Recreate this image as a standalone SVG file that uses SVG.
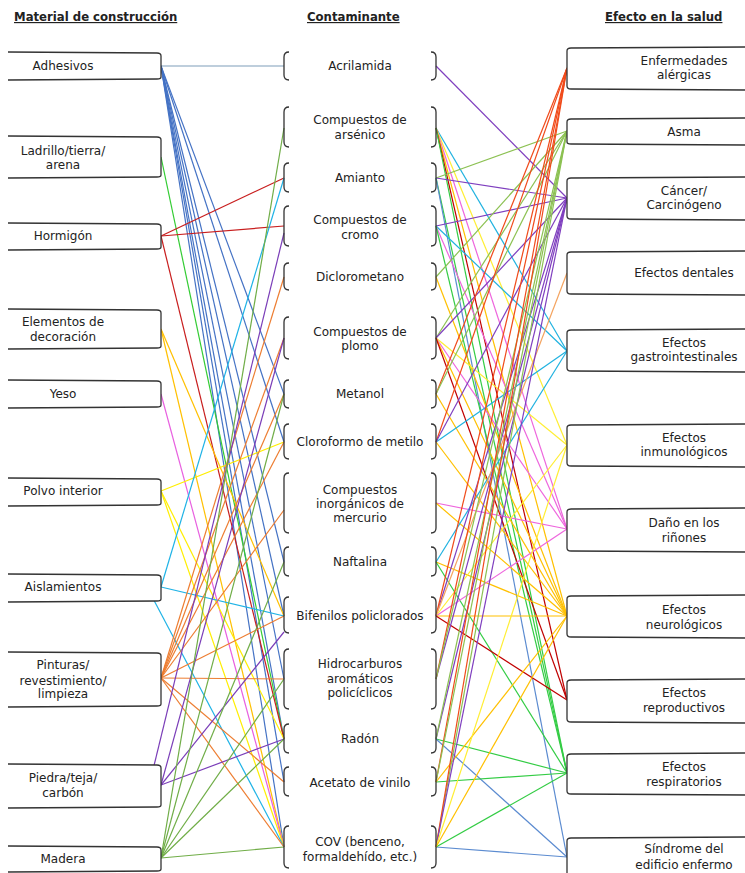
<svg xmlns="http://www.w3.org/2000/svg" width="745" height="873" viewBox="0 0 745 873">
<style>
text{font-family:"DejaVu Sans",Verdana,sans-serif;font-size:12px;fill:#222;text-anchor:middle}
.h{font-weight:bold;font-size:11.7px;text-decoration:underline;text-anchor:start}
.box{fill:#fff;stroke:#333;stroke-width:1.3}
.br{fill:none;stroke:#333;stroke-width:1.3}
#connectors line{stroke-width:1.2;fill:none}
.adh{stroke:#4472c4}.lad{stroke:#33cc33}.hor{stroke:#c81e1e}.ele{stroke:#ffc000}.yes{stroke:#e860e0}.pol{stroke:#ffee00}.ais{stroke:#1fb3e6}.pin{stroke:#ed7d31}.pie{stroke:#7a3db8}.mad{stroke:#70ad47}
.ale{stroke:#f04a1a}.asm{stroke:#8cc152}.can{stroke:#7f3fbf}.den{stroke:#f4a460}.gas{stroke:#20b2e0}.inm{stroke:#ffee33}.dan{stroke:#ee66dd}.neu{stroke:#ffc000}.rep{stroke:#c00000}.res{stroke:#33cc44}.sin{stroke:#5b8bd0}
</style>
<rect width="745" height="873" fill="#fff"/>
<text class="h" x="14" y="21">Material de construcción</text>
<text class="h" x="307" y="21">Contaminante</text>
<text class="h" x="605" y="21">Efecto en la salud</text>

<g id="connectors">
<line x1="161" y1="66" x2="284" y2="66" style="stroke:#7f9db9"/>
<line class="adh" x1="161" y1="66" x2="284" y2="394"/>
<line class="adh" x1="161" y1="66" x2="284" y2="442"/>
<line class="adh" x1="161" y1="66" x2="284" y2="562"/>
<line class="adh" x1="161" y1="66" x2="284" y2="616"/>
<line class="adh" x1="161" y1="66" x2="284" y2="679"/>
<line class="adh" x1="161" y1="66" x2="284" y2="739"/>
<line class="adh" x1="161" y1="66" x2="284" y2="782"/>
<line class="adh" x1="161" y1="66" x2="284" y2="847"/>
<line class="lad" x1="161" y1="157" x2="284" y2="739"/>
<line class="hor" x1="161" y1="236" x2="284" y2="178"/>
<line class="hor" x1="161" y1="236" x2="284" y2="226"/>
<line class="hor" x1="161" y1="236" x2="284" y2="739"/>
<line class="ele" x1="161" y1="329" x2="284" y2="616"/>
<line class="ele" x1="161" y1="329" x2="284" y2="847"/>
<line class="yes" x1="161" y1="394" x2="284" y2="847"/>
<line class="pol" x1="161" y1="491" x2="284" y2="442"/>
<line class="pol" x1="161" y1="491" x2="284" y2="739"/>
<line class="pol" x1="161" y1="491" x2="284" y2="847"/>
<line class="ais" x1="161" y1="587" x2="284" y2="178"/>
<line class="ais" x1="161" y1="587" x2="284" y2="616"/>
<line class="ais" x1="148" y1="589" x2="284" y2="847"/>
<line class="pin" x1="161" y1="678" x2="284" y2="277"/>
<line class="pin" x1="161" y1="678" x2="284" y2="338"/>
<line class="pin" x1="161" y1="678" x2="284" y2="394"/>
<line class="pin" x1="161" y1="678" x2="284" y2="442"/>
<line class="pin" x1="161" y1="678" x2="284" y2="510"/>
<line class="pin" x1="161" y1="678" x2="284" y2="616"/>
<line class="pin" x1="161" y1="678" x2="284" y2="679"/>
<line class="pin" x1="161" y1="678" x2="284" y2="782"/>
<line class="pin" x1="161" y1="678" x2="284" y2="847"/>
<line class="pie" x1="150" y1="782" x2="284" y2="233"/>
<line class="pie" x1="161" y1="785" x2="284" y2="338"/>
<line class="pie" x1="161" y1="785" x2="284" y2="632"/>
<line class="pie" x1="161" y1="785" x2="284" y2="739"/>
<line class="mad" x1="161" y1="858" x2="284" y2="128"/>
<line class="mad" x1="161" y1="858" x2="284" y2="394"/>
<line class="mad" x1="161" y1="858" x2="284" y2="562"/>
<line class="mad" x1="161" y1="858" x2="284" y2="679"/>
<line class="mad" x1="161" y1="858" x2="284" y2="739"/>
<line class="mad" x1="161" y1="858" x2="284" y2="847"/>

<line class="can" x1="436" y1="66" x2="567" y2="198"/>
<line class="gas" x1="436" y1="128" x2="567" y2="351"/>
<line class="inm" x1="436" y1="128" x2="567" y2="445"/>
<line class="dan" x1="436" y1="128" x2="567" y2="529"/>
<line class="neu" x1="436" y1="128" x2="567" y2="616"/>
<line class="rep" x1="436" y1="128" x2="567" y2="700"/>
<line class="res" x1="436" y1="128" x2="567" y2="773"/>
<line class="asm" x1="436" y1="178" x2="567" y2="131"/>
<line class="can" x1="436" y1="178" x2="567" y2="198"/>
<line class="res" x1="436" y1="178" x2="567" y2="773"/>
<line class="sin" x1="436" y1="178" x2="567" y2="857"/>
<line class="can" x1="436" y1="226" x2="567" y2="198"/>
<line class="gas" x1="436" y1="226" x2="567" y2="351"/>
<line class="dan" x1="436" y1="226" x2="567" y2="529"/>
<line class="res" x1="436" y1="226" x2="567" y2="773"/>
<line class="asm" x1="436" y1="277" x2="567" y2="131"/>
<line class="neu" x1="436" y1="277" x2="567" y2="616"/>
<line class="asm" x1="436" y1="338" x2="567" y2="131"/>
<line class="can" x1="436" y1="338" x2="567" y2="198"/>
<line class="inm" x1="436" y1="338" x2="567" y2="445"/>
<line class="dan" x1="436" y1="338" x2="567" y2="529"/>
<line class="neu" x1="436" y1="338" x2="567" y2="616"/>
<line class="rep" x1="436" y1="338" x2="567" y2="700"/>
<line class="ale" x1="436" y1="394" x2="567" y2="68"/>
<line class="asm" x1="436" y1="394" x2="567" y2="131"/>
<line class="neu" x1="436" y1="394" x2="567" y2="616"/>
<line class="gas" x1="436" y1="442" x2="567" y2="351"/>
<line class="ale" x1="436" y1="442" x2="567" y2="68"/>
<line class="can" x1="436" y1="442" x2="567" y2="198"/>
<line class="neu" x1="436" y1="442" x2="567" y2="616"/>
<line class="dan" x1="436" y1="503" x2="567" y2="529"/>
<line class="neu" x1="436" y1="503" x2="567" y2="616"/>
<line class="gas" x1="436" y1="562" x2="567" y2="351"/>
<line class="neu" x1="436" y1="562" x2="567" y2="616"/>
<line class="res" x1="436" y1="562" x2="567" y2="773"/>
<line class="can" x1="436" y1="616" x2="567" y2="198"/>
<line class="ale" x1="436" y1="616" x2="567" y2="68"/>
<line class="den" x1="436" y1="616" x2="567" y2="273"/>
<line class="inm" x1="436" y1="616" x2="567" y2="445"/>
<line class="dan" x1="436" y1="616" x2="567" y2="529"/>
<line class="neu" x1="436" y1="616" x2="567" y2="616"/>
<line class="rep" x1="436" y1="616" x2="567" y2="700"/>
<line class="can" x1="436" y1="679" x2="567" y2="198"/>
<line class="ale" x1="436" y1="679" x2="567" y2="68"/>
<line class="asm" x1="436" y1="679" x2="567" y2="131"/>
<line class="can" x1="436" y1="739" x2="567" y2="198"/>
<line class="asm" x1="436" y1="739" x2="567" y2="131"/>
<line class="res" x1="436" y1="739" x2="567" y2="773"/>
<line class="sin" x1="436" y1="739" x2="567" y2="857"/>
<line class="ale" x1="436" y1="782" x2="567" y2="68"/>
<line class="asm" x1="436" y1="782" x2="567" y2="131"/>
<line class="res" x1="436" y1="782" x2="567" y2="773"/>
<line class="neu" x1="436" y1="782" x2="567" y2="616"/>
<line class="sin" x1="436" y1="847" x2="567" y2="857"/>
<line class="res" x1="436" y1="847" x2="567" y2="773"/>
<line class="asm" x1="436" y1="847" x2="567" y2="131"/>
<line class="ale" x1="436" y1="847" x2="567" y2="68"/>
<line class="can" x1="436" y1="847" x2="567" y2="198"/>
<line class="inm" x1="436" y1="847" x2="567" y2="445"/>
<line class="neu" x1="436" y1="847" x2="567" y2="616"/>
</g>

<g id="adhesivos"><path class="box" d="M8,52 L157,53 Q161,53 161,56 L161,77 Q161,79 157,79 L8,80"/><text x="63" y="70">Adhesivos</text></g>
<g id="ladrillo"><path class="box" d="M8,136 L157,137 Q161,137 161,140 L161,175 Q161,177 157,177 L8,178"/><text x="63" y="155">Ladrillo/tierra/</text><text x="63" y="169">arena</text></g>
<g id="hormigon"><path class="box" d="M8,223 L157,224 Q161,224 161,227 L161,247 Q161,249 157,249 L8,250"/><text x="63" y="240">Hormigón</text></g>
<g id="elementos"><path class="box" d="M8,309 L157,310 Q161,310 161,313 L161,346 Q161,348 157,348 L8,349"/><text x="63" y="326">Elementos de</text><text x="63" y="341">decoración</text></g>
<g id="yeso"><path class="box" d="M8,380 L157,381 Q161,381 161,384 L161,405 Q161,407 157,407 L8,408"/><text x="63" y="398">Yeso</text></g>
<g id="polvo"><path class="box" d="M8,478 L157,479 Q161,479 161,482 L161,503 Q161,505 157,505 L8,506"/><text x="63" y="495">Polvo interior</text></g>
<g id="aislamientos"><path class="box" d="M8,574 L157,575 Q161,575 161,578 L161,599 Q161,601 157,601 L8,602"/><text x="63" y="591">Aislamientos</text></g>
<g id="pinturas"><path class="box" d="M8,652 L157,653 Q161,653 161,656 L161,704 Q161,706 157,706 L8,707"/><text x="63" y="669">Pinturas/</text><text x="63" y="685">revestimiento/</text><text x="63" y="698">limpieza</text></g>
<g id="piedra"><path class="box" d="M8,764 L157,765 Q161,765 161,768 L161,805 Q161,807 157,807 L8,808"/><text x="63" y="782">Piedra/teja/</text><text x="63" y="797">carbón</text></g>
<g id="madera"><path class="box" d="M8,846 L157,847 Q161,847 161,850 L161,869 Q161,871 157,871 L8,872"/><text x="63" y="863">Madera</text></g>

<g id="acrilamida"><path class="br" d="M289,52 Q284,52 284,57 L284,75 Q284,80 289,80 M431,52 Q436,52 436,57 L436,75 Q436,80 431,80"/><text x="360" y="70">Acrilamida</text></g>
<g id="arsenico"><path class="br" d="M289,107 Q284,107 284,112 L284,142 Q284,147 289,147 M431,107 Q436,107 436,112 L436,142 Q436,147 431,147"/><text x="360" y="124">Compuestos de</text><text x="360" y="139">arsénico</text></g>
<g id="amianto"><path class="br" d="M289,163 Q284,163 284,168 L284,187 Q284,192 289,192 M431,163 Q436,163 436,168 L436,187 Q436,192 431,192"/><text x="360" y="182">Amianto</text></g>
<g id="cromo"><path class="br" d="M289,206 Q284,206 284,211 L284,241 Q284,246 289,246 M431,206 Q436,206 436,211 L436,241 Q436,246 431,246"/><text x="360" y="224">Compuestos de</text><text x="360" y="239">cromo</text></g>
<g id="diclorometano"><path class="br" d="M289,263 Q284,263 284,268 L284,285 Q284,290 289,290 M431,263 Q436,263 436,268 L436,285 Q436,290 431,290"/><text x="360" y="281">Diclorometano</text></g>
<g id="plomo"><path class="br" d="M289,317 Q284,317 284,322 L284,354 Q284,359 289,359 M431,317 Q436,317 436,322 L436,354 Q436,359 431,359"/><text x="360" y="336">Compuestos de</text><text x="360" y="350">plomo</text></g>
<g id="metanol"><path class="br" d="M289,380 Q284,380 284,385 L284,403 Q284,408 289,408 M431,380 Q436,380 436,385 L436,403 Q436,408 431,408"/><text x="360" y="398">Metanol</text></g>
<g id="cloroformo"><path class="br" d="M289,424 Q284,424 284,429 L284,454 Q284,459 289,459 M431,424 Q436,424 436,429 L436,454 Q436,459 431,459"/><text x="360" y="446">Cloroformo de metilo</text></g>
<g id="mercurio"><path class="br" d="M289,473 Q284,473 284,478 L284,528 Q284,533 289,533 M431,473 Q436,473 436,478 L436,528 Q436,533 431,533"/><text x="360" y="494">Compuestos</text><text x="360" y="508">inorgánicos de</text><text x="360" y="522">mercurio</text></g>
<g id="naftalina"><path class="br" d="M289,547 Q284,547 284,552 L284,571 Q284,576 289,576 M431,547 Q436,547 436,552 L436,571 Q436,576 431,576"/><text x="360" y="566">Naftalina</text></g>
<g id="bifenilos"><path class="br" d="M289,597 Q284,597 284,602 L284,628 Q284,633 289,633 M431,597 Q436,597 436,602 L436,628 Q436,633 431,633"/><text x="360" y="620">Bifenilos policlorados</text></g>
<g id="hidrocarburos"><path class="br" d="M289,649 Q284,649 284,654 L284,704 Q284,709 289,709 M431,649 Q436,649 436,654 L436,704 Q436,709 431,709"/><text x="360" y="668">Hidrocarburos</text><text x="360" y="683">aromáticos</text><text x="360" y="697">policíclicos</text></g>
<g id="radon"><path class="br" d="M289,724 Q284,724 284,729 L284,748 Q284,753 289,753 M431,724 Q436,724 436,729 L436,748 Q436,753 431,753"/><text x="360" y="743">Radón</text></g>
<g id="acetato"><path class="br" d="M289,767 Q284,767 284,772 L284,791 Q284,796 289,796 M431,767 Q436,767 436,772 L436,791 Q436,796 431,796"/><text x="360" y="787">Acetato de vinilo</text></g>
<g id="cov"><path class="br" d="M289,826 Q284,826 284,831 L284,863 Q284,868 289,868 M431,826 Q436,826 436,831 L436,863 Q436,868 431,868"/><text x="360" y="846">COV (benceno,</text><text x="360" y="861">formaldehído, etc.)</text></g>

<g id="alergicas"><path class="box" d="M745,47 L571,48 Q567,48 567,51 L567,86 Q567,89 571,89 L745,90"/><text x="684" y="65">Enfermedades</text><text x="684" y="79">alérgicas</text></g>
<g id="asma"><path class="box" d="M745,118 L571,119 Q567,119 567,122 L567,142 Q567,144 571,144 L745,145"/><text x="684" y="136">Asma</text></g>
<g id="cancer"><path class="box" d="M745,177 L571,178 Q567,178 567,181 L567,216 Q567,219 571,219 L745,220"/><text x="684" y="195">Cáncer/</text><text x="684" y="209">Carcinógeno</text></g>
<g id="dentales"><path class="box" d="M745,251 L571,252 Q567,252 567,255 L567,291 Q567,294 571,294 L745,295"/><text x="684" y="277">Efectos dentales</text></g>
<g id="gastro"><path class="box" d="M745,329 L571,330 Q567,330 567,333 L567,368 Q567,371 571,371 L745,372"/><text x="684" y="347">Efectos</text><text x="684" y="361">gastrointestinales</text></g>
<g id="inmuno"><path class="box" d="M745,424 L571,425 Q567,425 567,428 L567,463 Q567,466 571,466 L745,467"/><text x="684" y="442">Efectos</text><text x="684" y="456">inmunológicos</text></g>
<g id="rinones"><path class="box" d="M745,508 L571,509 Q567,509 567,512 L567,548 Q567,551 571,551 L745,552"/><text x="684" y="527">Daño en los</text><text x="684" y="542">riñones</text></g>
<g id="neuro"><path class="box" d="M745,595 L571,596 Q567,596 567,599 L567,634 Q567,637 571,637 L745,638"/><text x="684" y="614">Efectos</text><text x="684" y="629">neurológicos</text></g>
<g id="repro"><path class="box" d="M745,679 L571,680 Q567,680 567,683 L567,719 Q567,722 571,722 L745,723"/><text x="684" y="697">Efectos</text><text x="684" y="712">reproductivos</text></g>
<g id="resp"><path class="box" d="M745,753 L571,754 Q567,754 567,757 L567,791 Q567,794 571,794 L745,795"/><text x="684" y="771">Efectos</text><text x="684" y="786">respiratorios</text></g>
<g id="sindrome"><path class="box" d="M745,837 L571,838 Q567,838 567,841 L567,875"/><text x="684" y="853">Síndrome del</text><text x="684" y="869">edificio enfermo</text></g>
</svg>
